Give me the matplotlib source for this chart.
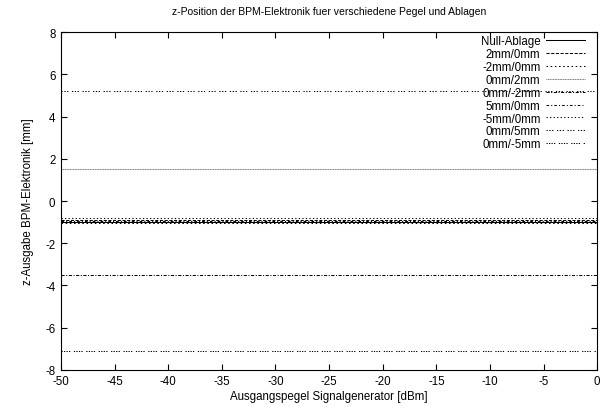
import matplotlib.pyplot as plt
import numpy as np

plt.rcParams['font.family'] = ['Liberation Sans', 'DejaVu Sans']
plt.rcParams['font.size'] = 8.3
plt.rcParams['axes.unicode_minus'] = False

# Ausgangspegel Signalgenerator [dBm]
pegel = [-50, -40, -30, -20, -10, 0]

# z-Ausgabe der BPM-Elektronik [mm] je Ablage
null_ablage = [-1.0, -1.0, -1.0, -1.0, -1.0, -1.0]
x_p2 = [-0.88, -0.88, -0.88, -0.88, -0.88, -0.88]
x_m2 = [-1.05, -1.05, -1.05, -1.05, -1.05, -1.05]
z_p2 = [1.52, 1.52, 1.52, 1.52, 1.52, 1.52]
z_m2 = [-3.52, -3.52, -3.52, -3.52, -3.52, -3.52]
x_p5 = [-0.95, -0.95, -0.95, -0.95, -0.95, -0.95]
x_m5 = [-0.78, -0.78, -0.78, -0.78, -0.78, -0.78]
z_p5 = [5.2, 5.2, 5.2, 5.2, 5.2, 5.2]
z_m5 = [-7.12, -7.12, -7.12, -7.12, -7.12, -7.12]

serien = [
    ('Null-Ablage', null_ablage, '-', 'black'),
    ('2mm/0mm', x_p2, (0, (3, 1.5)), 'black'),
    ('-2mm/0mm', x_m2, (0, (1.5, 2.5)), 'black'),
    ('0mm/2mm', z_p2, (0, (1, 0.6)), '#777777'),
    ('0mm/-2mm', z_m2, (0, (3, 1.5, 1, 1.5)), 'black'),
    ('5mm/0mm', x_p5, (0, (2.5, 2, 1, 2)), 'black'),
    ('-5mm/0mm', x_m5, (0, (1.2, 2.2)), 'black'),
    ('0mm/5mm', z_p5, (0, (1.2, 1.5, 1.2, 1.5, 1.2, 3.5)), 'black'),
    ('0mm/-5mm', z_m5, (0, (1.2, 1.2, 1.2, 1.2, 1.2, 1.2, 1.2, 3.5)), 'black'),
]

fig = plt.figure(figsize=(6.1, 4.14), dpi=100)
ax = fig.add_axes([0.1, 0.104, 0.879, 0.816])

for name, werte, ls, col in serien:
    ax.plot(pegel, werte, linestyle=ls, color=col, linewidth=0.75, label=name)

ax.set_xlim(-50, 0)
ax.set_ylim(-8, 8)
ax.set_xticks(np.arange(-50, 1, 5))
ax.set_yticks(np.arange(-8, 9, 2))
ax.tick_params(direction='in', top=True, right=True, length=4, width=0.8, pad=4)
for s in ax.spines.values():
    s.set_linewidth(0.8)

ax.set_xlabel('Ausgangspegel Signalgenerator [dBm]', labelpad=2)
ax.set_ylabel('z-Ausgabe BPM-Elektronik [mm]', labelpad=8)
ax.set_title('z-Position der BPM-Elektronik fuer verschiedene Pegel und Ablagen',
             fontsize=7.5, pad=13)

ax.legend(loc='upper right', bbox_to_anchor=(0.99, 1.012), frameon=False,
          markerfirst=False, handlelength=3.4, handletextpad=0.45,
          labelspacing=0.08, borderaxespad=0.2, fontsize=8.3)

fig.savefig('out.png', dpi=100)
